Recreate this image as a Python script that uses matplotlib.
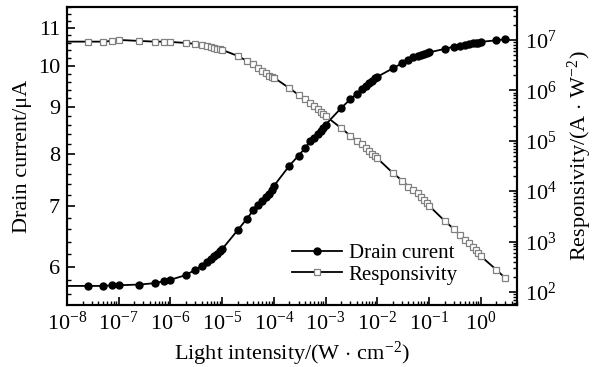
import numpy as np
import matplotlib
matplotlib.use('Agg')
import matplotlib.pyplot as plt
from matplotlib.ticker import LogLocator, FixedLocator, NullFormatter, FormatStrFormatter

plt.rcParams['font.family'] = ['Liberation Serif', 'DejaVu Serif']
plt.rcParams['mathtext.fontset'] = 'custom'
plt.rcParams['mathtext.rm'] = 'Liberation Serif'
plt.rcParams['mathtext.it'] = 'Liberation Serif:italic'
plt.rcParams['font.size'] = 16

## DATA
intensity = np.array([2.5e-8, 5e-8, 7.5e-8, 1e-7, 2.5e-7, 5e-7, 7.5e-7,
                      1e-6, 2e-6, 3e-6, 4e-6, 5e-6, 6e-6, 7e-6, 8e-6, 9e-6,
                      1e-5, 2e-5, 3e-5, 4e-5, 5e-5, 6e-5, 7e-5, 8e-5, 9e-5,
                      1e-4, 2e-4, 3e-4, 4e-4, 5e-4, 6e-4, 7e-4, 8e-4, 9e-4,
                      1e-3, 2e-3, 3e-3, 4e-3, 5e-3, 6e-3, 7e-3, 8e-3, 9e-3,
                      1e-2, 2e-2, 3e-2, 4e-2, 5e-2, 6e-2, 7e-2, 8e-2, 9e-2,
                      0.1, 0.2, 0.3, 0.4, 0.5, 0.6, 0.7, 0.8, 0.9,
                      1.0, 2.0, 3.0])

drain = np.array([5.72, 5.72, 5.73, 5.73, 5.74, 5.76, 5.79,
                  5.81, 5.88, 5.96, 6.02, 6.08, 6.13, 6.17, 6.21, 6.25,
                  6.28, 6.59, 6.78, 6.93, 7.03, 7.10, 7.17, 7.23, 7.30,
                  7.37, 7.76, 7.96, 8.11, 8.25, 8.33, 8.40, 8.47, 8.54,
                  8.61, 8.98, 9.18, 9.31, 9.42, 9.50, 9.56, 9.62, 9.68,
                  9.72, 9.93, 10.06, 10.15, 10.21, 10.25, 10.27, 10.30, 10.32,
                  10.34, 10.43, 10.49, 10.52, 10.54, 10.56, 10.58, 10.59, 10.60,
                  10.62, 10.66, 10.69])

log_resp = np.array([6.966, 6.966, 6.98, 7.0, 6.98, 6.966, 6.966,
                     6.96, 6.94, 6.921, 6.901, 6.887, 6.867, 6.847, 6.821, 6.811,
                     6.802, 6.683, 6.583, 6.518, 6.45, 6.391, 6.339, 6.292, 6.266,
                     6.252, 6.042, 5.91, 5.82, 5.75, 5.68, 5.62, 5.57, 5.53,
                     5.49, 5.25, 5.10, 5.00, 4.93, 4.86, 4.80, 4.74, 4.70,
                     4.65, 4.36, 4.21, 4.09, 4.02, 3.96, 3.89, 3.83, 3.76,
                     3.71, 3.41, 3.25, 3.12, 3.03, 2.97, 2.90, 2.83, 2.77,
                     2.71, 2.44, 2.27])
resp = 10**log_resp

x_start = 1e-8  # lines run from the left axis

fig = plt.figure(figsize=(5.95, 3.67), dpi=100)
ax = fig.add_axes([67/595, 1-305/367, 450/595, 298/367])
ax2 = ax.twinx()

# drain current
ax.plot(np.r_[x_start, intensity], np.r_[drain[0], drain], 'k-', lw=1.3, zorder=3)
ax.plot(intensity, drain, 'o', color='k', ms=5, zorder=4)

# responsivity
ax2.plot(np.r_[x_start, intensity], np.r_[resp[0], resp], 'k-', lw=1.3, zorder=2)
ax2.plot(intensity, resp, 's', mfc='white', mec='#808080', mew=0.9, ms=5, zorder=3)

ax.set_xscale('log')
ax.set_yscale('log')
ax2.set_yscale('log')
ax.set_xlim(1e-8, 10**0.7)
ax.set_ylim(5.45, 11.6)
ax2.set_ylim(55, 4.5e7)

ax.xaxis.set_major_locator(LogLocator(base=10, numticks=20))
ax.xaxis.set_minor_locator(LogLocator(base=10, subs=np.arange(2, 10), numticks=20))
ax.xaxis.set_minor_formatter(NullFormatter())

ax.yaxis.set_major_locator(FixedLocator([6, 7, 8, 9, 10, 11]))
ax.yaxis.set_major_formatter(FormatStrFormatter('%d'))
ax.yaxis.set_minor_locator(FixedLocator(np.arange(5.6, 11.61, 0.2)))
ax.yaxis.set_minor_formatter(NullFormatter())

ax2.yaxis.set_major_locator(LogLocator(base=10, numticks=20))
ax2.yaxis.set_minor_locator(LogLocator(base=10, subs=np.arange(2, 10), numticks=20))
ax2.yaxis.set_minor_formatter(NullFormatter())

ax.tick_params(axis='both', which='major', direction='in', length=6, width=1.2, labelsize=16)
ax.tick_params(axis='both', which='minor', direction='in', length=3, width=1)
ax.tick_params(axis='x', top=False, which='both', pad=5)
ax.tick_params(axis='y', pad=5)
ax2.tick_params(axis='y', which='major', direction='in', length=6, width=1.2, labelsize=16, pad=6)
ax2.tick_params(axis='y', which='minor', direction='in', length=3, width=1)

for a in (ax, ax2):
    for s in a.spines.values():
        s.set_linewidth(1.5)

ax.set_xlabel('Light intensity/(W$\\,\\cdot\\,$cm$^{-2}$)', fontsize=16, labelpad=3)
ax.set_ylabel('Drain current/\u03bcA', fontsize=16, labelpad=4)
ax2.set_ylabel('Responsivity/(A$\\,\\cdot\\,$W$^{-2}$)', fontsize=16, labelpad=6)

h1, = ax.plot([], [], 'k-', marker='o', ms=5, lw=1.3)
h2, = ax.plot([], [], 'k-', marker='s', mfc='white', mec='#808080', mew=0.9, ms=5, lw=1.3)
leg = fig.legend([h1, h2], ['Drain curent', 'Responsivity'], loc='center',
                 bbox_to_anchor=(375/595, 1-264/367), frameon=False, fontsize=15,
                 handlelength=2.4, handletextpad=0.3, labelspacing=0.1)

fig.savefig('out.png', dpi=100)
